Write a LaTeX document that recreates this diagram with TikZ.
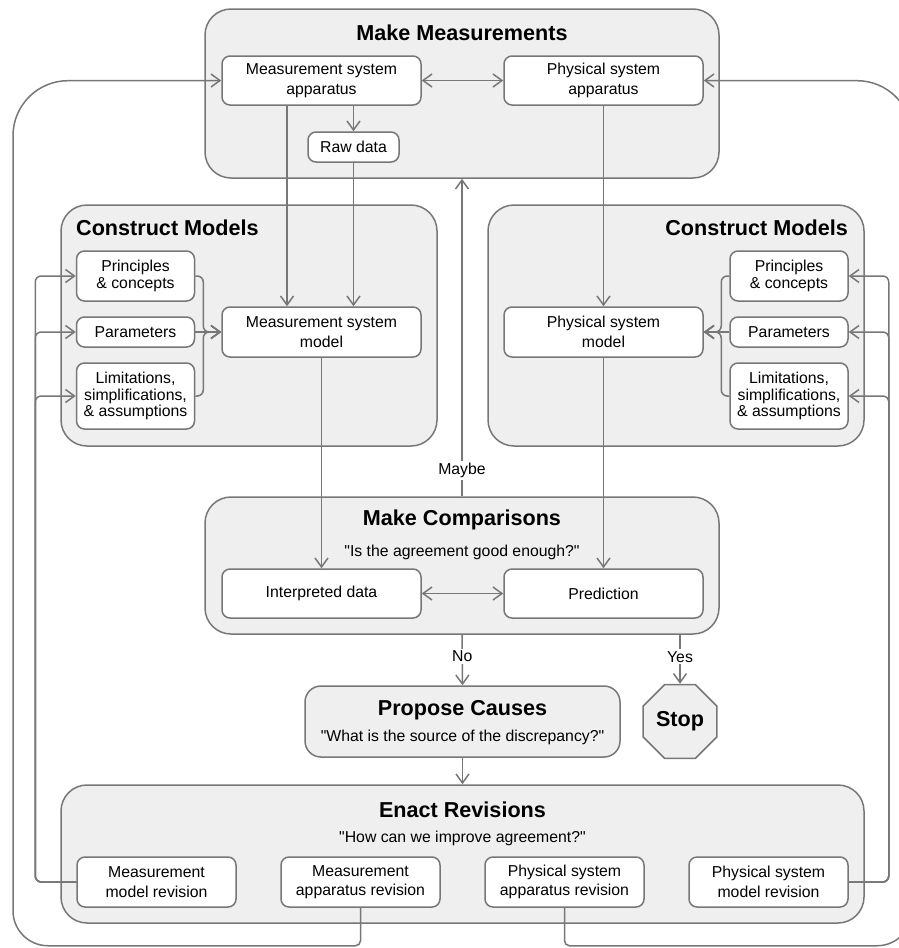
\documentclass[tikz,border=0pt]{standalone}
\usepackage{fontspec}
\setmainfont{Liberation Sans}
\usetikzlibrary{arrows.meta,shapes.geometric}

\definecolor{linegray}{HTML}{777777}
\definecolor{groupfill}{HTML}{EFEFEF}

\newcommand{\quoted}[1]{\textquotedbl#1\textquotedbl}

\tikzstyle{groupbox}=[draw=linegray, fill=groupfill, line width=1.5pt, rounded corners=26pt]
\tikzstyle{box}=[draw=linegray, fill=white, line width=1.5pt, rounded corners=8pt, align=center, inner sep=0pt, minimum width=199pt, minimum height=49pt, font=\fontsize{15.8}{19.5}\selectfont]
\tikzstyle{sidebox}=[box, minimum width=118pt, font=\fontsize{15.8}{16.7}\selectfont]
\tikzstyle{revbox}=[box, minimum width=159pt, minimum height=50pt]
\tikzstyle{heading}=[font=\fontsize{21.6}{24}\selectfont\bfseries, inner sep=0pt]
\tikzstyle{quote}=[font=\fontsize{15.8}{19}\selectfont, inner sep=0pt]
\tikzstyle{answer}=[fill=white, inner sep=2pt, font=\fontsize{15.8}{19}\selectfont]
\tikzstyle{arrow}=[draw=linegray, line width=1.5pt, -{Straight Barb[length=9pt,width=13pt]}]
\tikzstyle{both}=[arrow, {Straight Barb[length=9pt,width=13pt]}-{Straight Barb[length=9pt,width=13pt]}]

\begin{document}
\begin{tikzpicture}[x=1pt, y=-1pt]
      \useasboundingbox (0,0) rectangle (898,948);

      \node[groupbox, minimum width=514pt, minimum height=169pt] (meas) at (462,93.5) {};
      \node[groupbox, minimum width=376pt, minimum height=241pt] (lmodels) at (249,325.5) {};
      \node[groupbox, minimum width=376pt, minimum height=241pt] (rmodels) at (676,325.5) {};
      \node[groupbox, minimum width=514pt, minimum height=137pt] (compare) at (462,565.5) {};
      \node[groupbox, minimum width=315pt, minimum height=71pt, rounded corners=16pt] (propose) at (462.5,721.5) {};
      \node[groupbox, minimum width=803pt, minimum height=138pt] (enact) at (462.5,854) {};

      \node[heading] (meastitle) at (462,33) {Make Measurements};
      \node[heading, anchor=west] (ltitle) at (76,228) {Construct Models};
      \node[heading, anchor=east] (rtitle) at (848,228) {Construct Models};
      \node[heading] (comptitle) at (462,520) {Make Comparisons};
      \node[quote] (compq) at (462,552) {\quoted{Is the agreement good enough?}};
      \node[heading] (proptitle) at (462.5,710) {Propose Causes};
      \node[quote] (propq) at (462.5,737) {\quoted{What is the source of the discrepancy?}};
      \node[heading] (enacttitle) at (462.5,810) {Enact Revisions};
      \node[quote] (enactq) at (462.5,838) {\quoted{How can we improve agreement?}};

      \node[box] (msa) at (321.5,80.5) {Measurement system\\apparatus};
      \node[box] (psa) at (603.5,80.5) {Physical system\\apparatus};
      \node[box, minimum width=91pt, minimum height=30pt] (raw) at (353.5,147) {Raw data};

      \node[sidebox, minimum height=50pt] (lpc) at (135.5,276) {Principles\\\& concepts};
      \node[sidebox, minimum height=30pt] (lpar) at (135.5,332) {Parameters};
      \node[sidebox, minimum height=66pt] (llim) at (135.5,396) {Limitations,\\simplifications,\\\& assumptions};
      \node[box, minimum height=50pt] (msm) at (321.5,332) {Measurement system\\model};

      \node[sidebox, minimum height=50pt] (rpc) at (789,276) {Principles\\\& concepts};
      \node[sidebox, minimum height=30pt] (rpar) at (789,332) {Parameters};
      \node[sidebox, minimum height=66pt] (rlim) at (789,396) {Limitations,\\simplifications,\\\& assumptions};
      \node[box, minimum height=50pt] (psm) at (603.5,332) {Physical system\\model};

      \node[box] (interp) at (321.5,593.5) {Interpreted data};
      \node[box] (pred) at (603.5,593.5) {Prediction};

      \node[draw=linegray, fill=groupfill, line width=1.5pt, regular polygon, regular polygon sides=8, minimum size=80pt, inner sep=0pt, heading] (stop) at (680,721.5) {Stop};

      \node[revbox] (rev1) at (156.5,882) {Measurement\\model revision};
      \node[revbox] (rev2) at (360.5,882) {Measurement\\apparatus revision};
      \node[revbox] (rev3) at (564.5,882) {Physical system\\apparatus revision};
      \node[revbox] (rev4) at (768.5,882) {Physical system\\model revision};

      \draw[both] (msa) to (psa);
      \draw[arrow] (raw.north |- msa.south) to (raw.north);
      \draw[arrow] ([xshift=-34.5pt]msa.south) to ([xshift=-34.5pt]msm.north);
      \draw[arrow] (raw.south) to (raw.south |- msm.north);
      \draw[arrow] (psa) to (psm);

      \draw[arrow, rounded corners=6pt] (lpc.east) -- ++(8,0) |- (msm.west);
      \draw[arrow] (lpar) to (msm);
      \draw[arrow, rounded corners=6pt] (llim.east) -- ++(8,0) |- (msm.west);
      \draw[arrow, rounded corners=6pt] (rpc.west) -- ++(-8,0) |- (psm.east);
      \draw[arrow] (rpar) to (psm);
      \draw[arrow, rounded corners=6pt] (rlim.west) -- ++(-8,0) |- (psm.east);

      \draw[arrow] (msm) to (interp);
      \draw[arrow] (psm) to (pred);
      \draw[both] (interp) to (pred);

      \draw[arrow] (compare.north) to node[answer, pos=0.08] {Maybe} (meas.south);
      \draw[arrow] (compare.south) to node[answer, pos=0.43] {No} (propose.north);
      \draw[arrow] (stop.north |- compare.south) to node[answer, pos=0.45] {Yes} (stop.north);
      \draw[arrow] (propose.south) to (enact.north);

      \draw[arrow, rounded corners=6pt] (rev1.west) -- ++(-41,0) |- (lpc.west);
      \draw[arrow, rounded corners=6pt] (rev1.west) -- ++(-41,0) |- (lpar.west);
      \draw[arrow, rounded corners=6pt] (rev1.west) -- ++(-41,0) |- (llim.west);
      \draw[arrow, rounded corners=6pt] (rev4.east) -- ++(40,0) |- (rpc.east);
      \draw[arrow, rounded corners=6pt] (rev4.east) -- ++(40,0) |- (rpar.east);
      \draw[arrow, rounded corners=6pt] (rev4.east) -- ++(40,0) |- (rlim.east);

      \draw[arrow] (rev2.south) [rounded corners=5pt] -- ++(0,38) [rounded corners=35pt] -- ++(-347.5,0) [rounded corners=55pt] -- ++(0,-865) -- (msa.west);
      \draw[arrow] (rev3.south) [rounded corners=5pt] -- ++(0,38) [rounded corners=35pt] -- ++(347.5,0) [rounded corners=55pt] -- ++(0,-865) -- (psa.east);
    \end{tikzpicture}
\end{document}
